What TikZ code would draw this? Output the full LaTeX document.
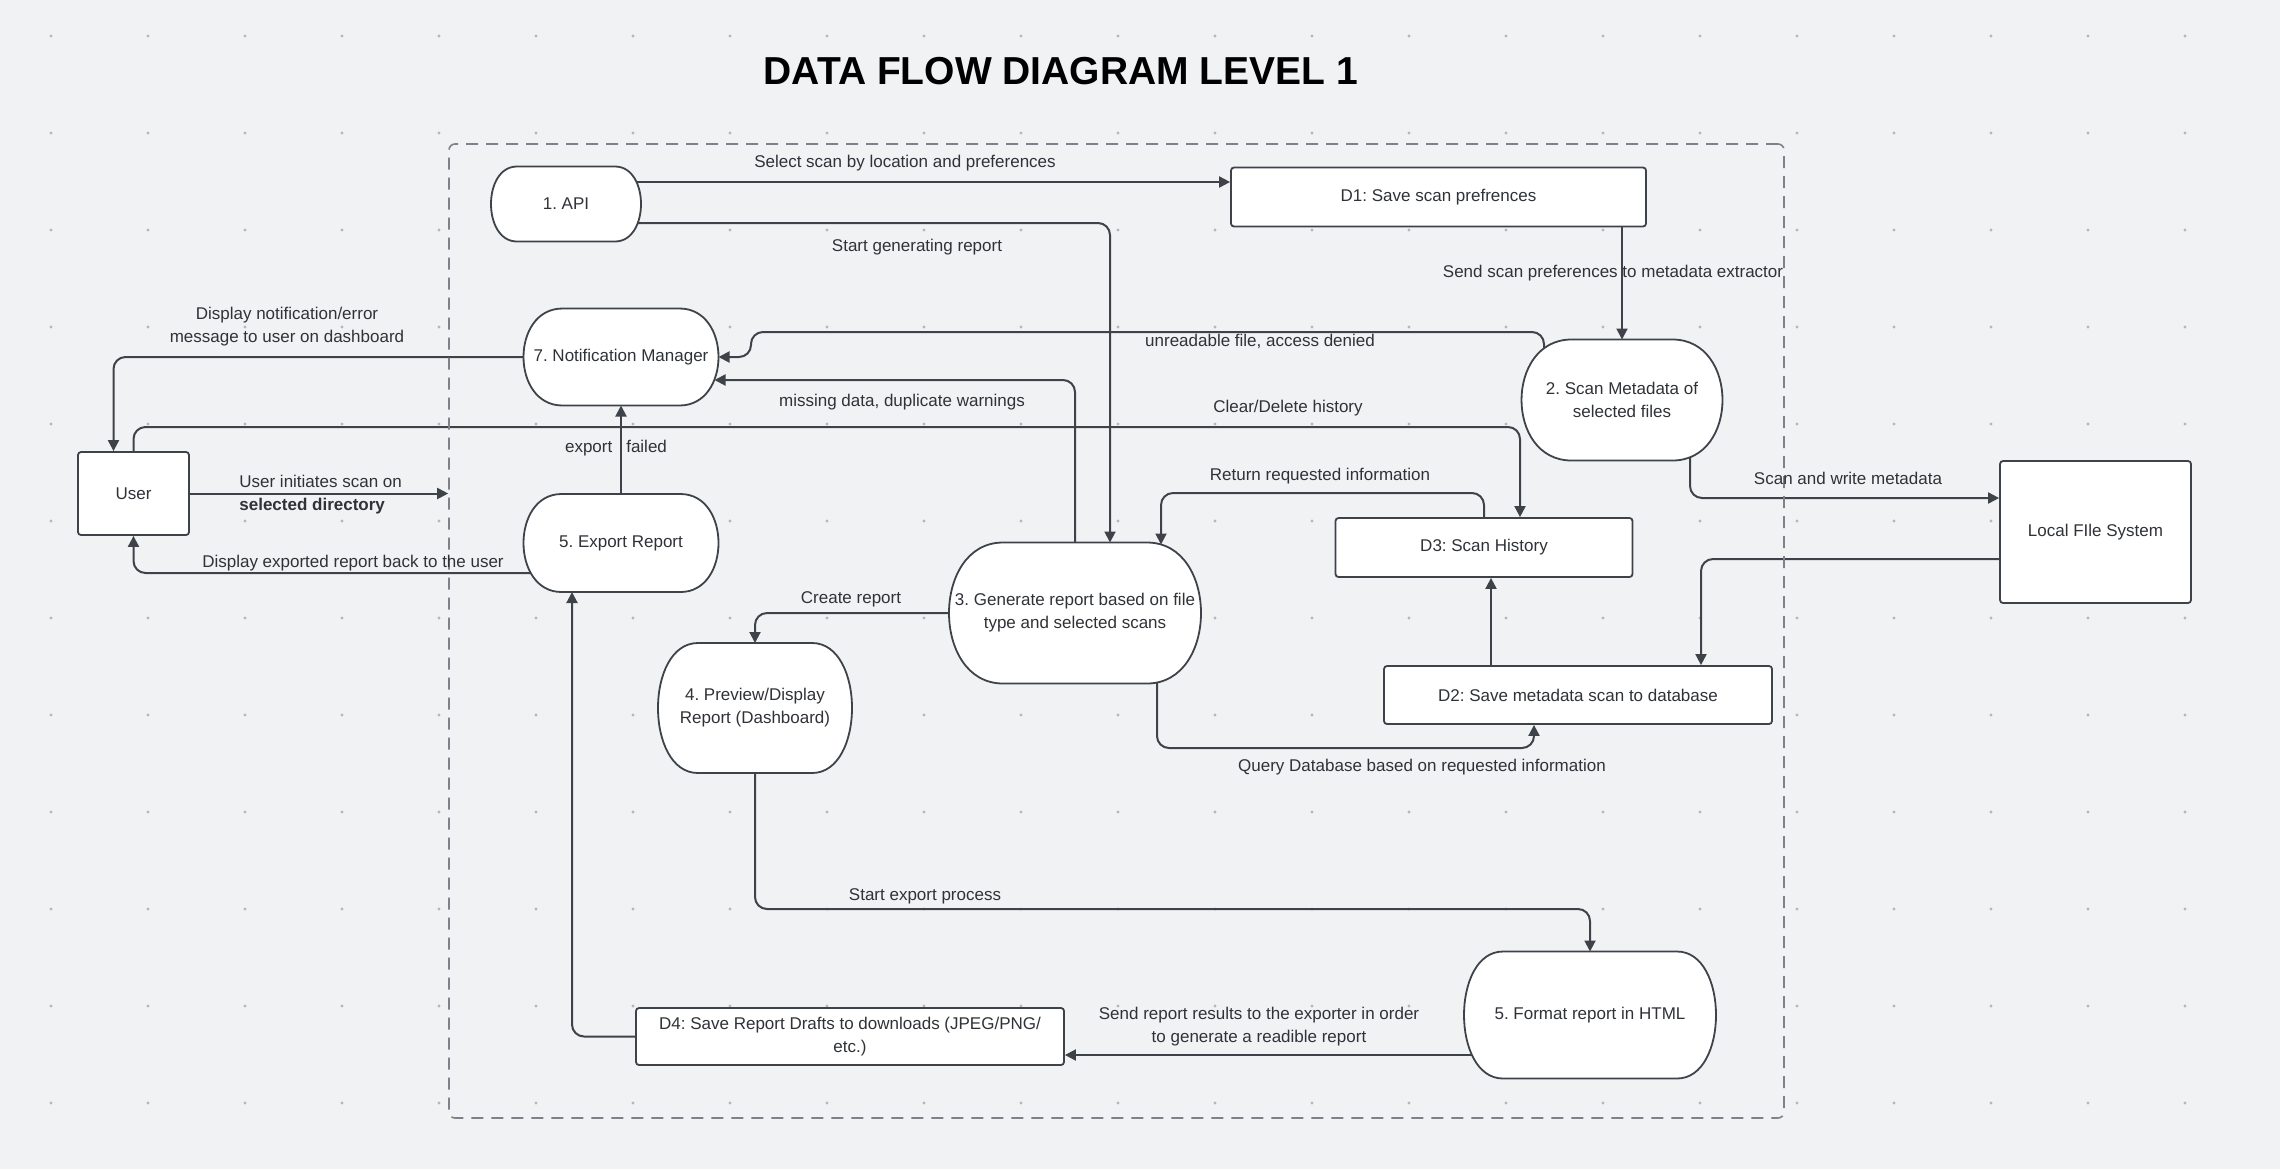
\documentclass[tikz,border=0pt]{standalone}
\usepackage{fontspec}
\setmainfont{Liberation Sans}
\usepackage{tikz}
\usetikzlibrary{positioning,calc,arrows.meta}
\pgfdeclarelayer{background}
\pgfdeclarelayer{shapes}
\pgfsetlayers{background,shapes,main}
\definecolor{canvas}{HTML}{F1F2F4}
\definecolor{griddot}{HTML}{B3B7BD}
\definecolor{wire}{HTML}{3E434A}
\definecolor{ink}{HTML}{2F3237}
\definecolor{sysline}{HTML}{7C818A}
\newcommand{\dfdfont}{\fontsize{8.5}{11.5}\selectfont}
\tikzstyle{proc}=[rectangle, inner xsep=0pt, inner ysep=2pt, outer sep=0pt, text=ink, font=\dfdfont, align=center]
\tikzstyle{procedge}=[draw=wire, fill=white, line width=0.9pt]
\tikzstyle{store}=[rectangle, rounded corners=1.5pt, draw=wire, fill=white, line width=0.9pt, text=ink, font=\dfdfont, align=center, inner sep=2pt]
\tikzstyle{flow}=[draw=wire, line width=1pt, rounded corners=6pt, -{Triangle[length=5.5pt,width=5.5pt]}]
\tikzstyle{lbl}=[text=ink, font=\dfdfont, align=center, inner sep=1pt]
% outline of a process: flat top and bottom, bulging sides
\newcommand{\drawproc}[2]{%
  \draw[procedge] ([xshift=#2]#1.north west) -- ([xshift=-#2]#1.north east)
    .. controls +({1.3333*#2},0) and +({1.3333*#2},0) .. ([xshift=-#2]#1.south east)
    -- ([xshift=#2]#1.south west)
    .. controls +({-1.3333*#2},0) and +({-1.3333*#2},0) .. ([xshift=#2]#1.north west) -- cycle;}
\frenchspacing

\begin{document}
\begin{tikzpicture}[x=0.5pt,y=-0.5pt]
\useasboundingbox (0,0) rectangle (2280,1169);
\begin{pgfonlayer}{background}
\fill[canvas] (0,0) rectangle (2280,1169);
\foreach \i in {0,...,22}
  \foreach \j in {0,...,11}
    \fill[griddot] ({51+97*\i},{36+97*\j}) circle (0.8pt);
\end{pgfonlayer}

\node[font=\fontsize{19.5}{22}\selectfont\bfseries, text=black] (title) at (1061,71) {DATA FLOW DIAGRAM LEVEL 1};

\node[draw=sysline, line width=0.8pt, dash pattern=on 6pt off 4pt, rounded corners=3pt, minimum width=667.5pt, minimum height=487pt, inner sep=0pt] (sys) at (1116.5,631) {};

% external entities
\node[store, minimum width=55.5pt, minimum height=41.5pt] (user) at (133.5,493.5) {User};
\node[store, minimum width=95.5pt, minimum height=71pt] (lfs) at (2095.5,532) {Local FIle System};

% processes
\node[proc, minimum width=75pt, minimum height=37.5pt] (api) at (566,204) {1. API};
\node[proc, minimum width=97.5pt, minimum height=48.5pt] (notif) at (621,357) {7. Notification Manager};
\node[proc, minimum width=97.5pt, minimum height=49pt] (export) at (621,543) {5. Export Report};
\node[proc, minimum width=126pt, minimum height=70.5pt] (gen) at (1075,613) {3. Generate report based on file\\type and selected scans};
\node[proc, minimum width=97pt, minimum height=65pt] (prev) at (755,708) {4. Preview/Display\\Report (Dashboard)};
\node[proc, minimum width=126pt, minimum height=63.5pt] (fmt) at (1590,1015) {5. Format report in HTML};
\node[proc, minimum width=100.5pt, minimum height=60.5pt] (scan) at (1622,400) {2. Scan Metadata of\\selected files};
\begin{pgfonlayer}{shapes}
\drawproc{api}{13pt}
\drawproc{notif}{19.5pt}
\drawproc{export}{19pt}
\drawproc{gen}{27pt}
\drawproc{prev}{20pt}
\drawproc{fmt}{19.5pt}
\drawproc{scan}{25pt}
\end{pgfonlayer}

% data stores
\node[store, minimum width=207.5pt, minimum height=29.5pt] (d1) at (1438.5,197) {D1: Save scan prefrences};
\node[store, minimum width=148.5pt, minimum height=29.5pt] (d3) at (1484,547.5) {D3: Scan History};
\node[store, minimum width=194pt, minimum height=29pt] (d2) at (1578,695) {D2: Save metadata scan to database};
\node[store, minimum width=214pt, minimum height=28.5pt] (d4) at (850,1036.5) {D4: Save Report Drafts to downloads (JPEG/PNG/\\etc.)};

% flows
\begin{pgfonlayer}{background}
\coordinate (clr) at (1520,427);
\coordinate (unr) at (751,332);
\coordinate (ret) at (1161,493);
\coordinate (qry) at (1534,748);
\coordinate (xp) at (755,909);
\draw[flow] ([yshift=11pt]api.center) -- ([yshift=7.5pt]d1.west);
\draw[flow] ([yshift=-9.5pt]api.center) -| ([xshift=17.5pt]gen.north);
\draw[flow] (d1.south -| scan.north) -- (scan.north);
\draw[flow] ([xshift=-39pt]scan.center) |- (unr) |- (notif.east);
\draw[flow] (gen.north) |- ([xshift=-2pt,yshift=-11.5pt]notif.east);
\draw[flow] (notif.west) -| ([xshift=-10pt]user.north);
\draw[flow] (user.north) |- (clr) -- ([xshift=18pt]d3.north);
\draw[flow] (user.east) -- (user.east -| sys.west);
\draw[flow] ([yshift=-15pt]export.center) -| (user.south);
\draw[flow] (export.north) -- (notif.south);
\draw[flow] (gen.west) -| (prev.north);
\draw[flow] (d3.north) |- (ret) -- ([xshift=43pt,yshift=-1pt]gen.north);
\draw[flow] ([xshift=41pt]gen.center) |- (qry) -- ([xshift=-22pt]d2.south);
\draw[flow] ([xshift=-43.5pt]d2.north) -- ([xshift=3.5pt]d3.south);
\draw[flow] ([xshift=34pt]scan.center) |- ([yshift=17pt]lfs.west);
\draw[flow] ([yshift=-13.5pt]lfs.west) -| ([xshift=61.5pt]d2.north);
\draw[flow] (prev.south) -- (xp) -| (fmt.north);
\draw[flow] ([yshift=-20pt]fmt.center) -- ([yshift=-9.25pt]d4.east);
\draw[flow] (d4.west) -| ([xshift=-24.5pt]export.south);
\end{pgfonlayer}

% flow labels
\node[lbl] (lsel) at (905,163) {Select scan by location and preferences};
\node[lbl] (lstart) at (917,247) {Start generating report};
\node[lbl] (lsend) at (1613,273) {Send scan preferences to metadata extractor};
\node[lbl] (lunr) at (1260,341) {unreadable file, access denied};
\node[lbl] (lmiss) at (902,402) {missing data, duplicate warnings};
\node[lbl] (ldisp) at (287,327) {Display notification/error\\message to user on dashboard};
\node[lbl] (lclr) at (1288,408) {Clear/Delete history};
\node[lbl, anchor=west, align=left] (linit) at (237,494.5) {User initiates scan on\\\textbf{selected directory}};
\node[lbl] (lback) at (353,563) {Display exported report back to the user};
\node[lbl] (lfail) at (616,448) {export\hspace{7pt}failed};
\node[lbl] (lcreate) at (851,599) {Create report};
\node[lbl] (lret) at (1320,476) {Return requested information};
\node[lbl] (lquery) at (1422,767) {Query Database based on requested information};
\node[lbl] (lwrite) at (1848,478) {Scan and write metadata};
\node[lbl] (lexp) at (925,896) {Start export process};
\node[lbl] (lres) at (1259,1026.5) {Send report results to the exporter in order\\to generate a readible report};
\end{tikzpicture}
\end{document}
